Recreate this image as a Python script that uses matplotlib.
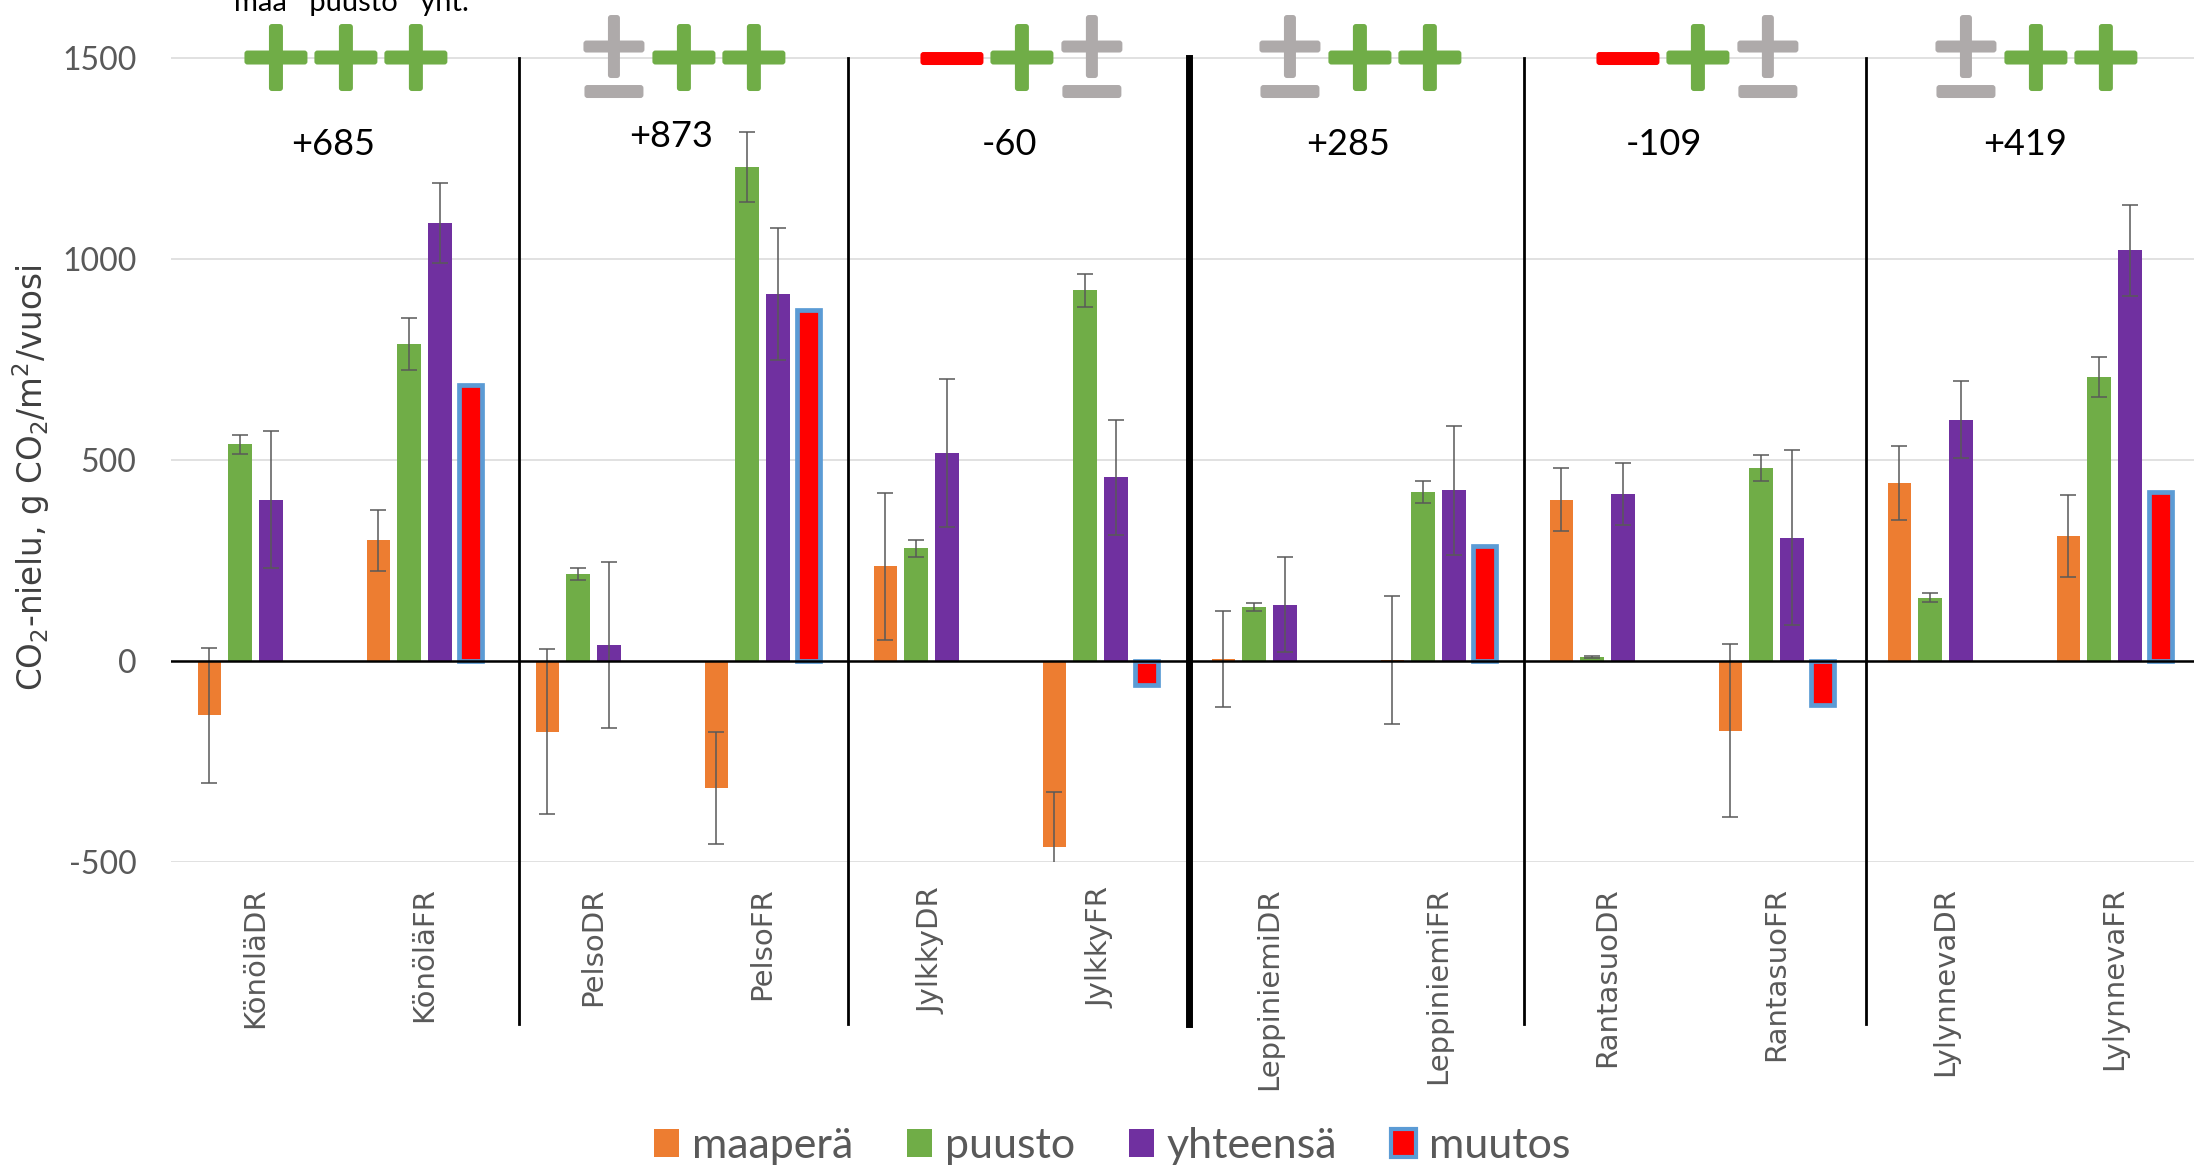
import numpy as np
import matplotlib
matplotlib.use("Agg")
import matplotlib.pyplot as plt
from matplotlib.patches import Patch, FancyBboxPatch
from matplotlib.transforms import IdentityTransform

# ---------------- data ----------------
categories = ["KönöläDR", "KönöläFR", "PelsoDR", "PelsoFR", "JylkkyDR", "JylkkyFR",
              "LeppiniemiDR", "LeppiniemiFR", "RantasuoDR", "RantasuoFR",
              "LylynnevaDR", "LylynnevaFR"]
maapera = [-135, 300, -176, -316, 235, -463, 4, 2, 401, -174, 441, 311]
maapera_err = [168, 76, 205, 140, 183, 136, 119, 159, 78, 215, 92, 102]
puusto = [538, 788, 215, 1228, 280, 921, 134, 420, 10, 479, 157, 706]
puusto_err = [23, 65, 15, 87, 21, 40, 10, 28, 3, 33, 11, 50]
yhteensa = [401, 1088, 40, 912, 517, 456, 140, 424, 415, 306, 600, 1021]
yhteensa_err = [170, 100, 206, 165, 183, 143, 119, 161, 78, 218, 95, 113]
muutos = [np.nan, 685, np.nan, 873, np.nan, -60, np.nan, 285, np.nan, -109, np.nan, 419]
series_names = ["maaperä", "puusto", "yhteensä", "muutos"]
# sign indicators per site: maa, puusto, yht.
signs = [["+", "+", "+"], ["±", "+", "+"], ["-", "+", "±"],
         ["±", "+", "+"], ["-", "+", "±"], ["±", "+", "+"]]
yticks = [-500, 0, 500, 1000, 1500]

# ---------------- layout / style ----------------
W, H = 2194, 1170
C_ORANGE, C_GREEN, C_PURPLE = "#ED7D31", "#70AD47", "#7030A0"
C_RED, C_BLUE, C_GRAY = "#FF0000", "#5B9BD5", "#AEAAAA"
TXT = "#595959"

plt.rcParams["mathtext.default"] = "regular"
fig = plt.figure(figsize=(W / 100, H / 100), dpi=100)
ax = fig.add_axes([171 / W, 1 - 862 / H, (2199 - 171) / W, 862 / H])
ax.set_xlim(-0.5, 11.5)
ax.set_ylim(-500, 1643)
for s in ax.spines.values():
    s.set_visible(False)

ax.set_yticks(yticks)
ax.set_yticklabels([str(t) for t in yticks], fontfamily="Lato", fontsize=23, color=TXT)
ax.yaxis.grid(True, color="#D9D9D9", lw=1.1, zorder=0)
ax.set_axisbelow(True)
ax.tick_params(axis="both", length=0)
ax.tick_params(axis="y", pad=25)
x = np.arange(len(categories))
ax.set_xticks(x)
ax.set_xticklabels(categories, rotation=90, fontsize=21, color=TXT, fontfamily="DejaVu Sans")
ax.tick_params(axis="x", pad=18)

off, w = 0.1817, 0.140
ekw = dict(ecolor="#595959", elinewidth=1.1, capsize=5.8, capthick=1.1, zorder=4)
for i, (v, e, c) in enumerate([(maapera, maapera_err, C_ORANGE),
                               (puusto, puusto_err, C_GREEN),
                               (yhteensa, yhteensa_err, C_PURPLE)]):
    ax.bar(x + (i - 1.5) * off, v, w, color=c, yerr=e, error_kw=ekw, zorder=3)
mu = np.array(muutos, dtype=float)
m = ~np.isnan(mu)
ax.bar(x[m] + 1.5 * off, mu[m], w, color=C_RED, edgecolor=C_BLUE, linewidth=3.4, zorder=3)

ax.axhline(0, color="black", lw=1.8, zorder=4)

# site separators
sep_x = [1.56, 3.508, 5.521, 7.505, 9.53]
sep_lw = [2.0, 2.0, 5.0, 2.0, 2.0]
for sx, lw in zip(sep_x, sep_lw):
    ax.plot([sx, sx], [1500, -903], color="black", lw=lw, clip_on=False, zorder=5)

# change labels
lab_dx_px = [-7, -7, -7, -6, -28, -5]
lab_base_px = [155, 147, 155, 155, 155, 155]
px_per_cat = (ax.transData.transform((1, 0))[0] - ax.transData.transform((0, 0))[0])
px_per_unit = (ax.transData.transform((0, 1))[1] - ax.transData.transform((0, 0))[1])
y0_top = H - ax.transData.transform((0, 0))[1]
site_changes = mu[m]
for k, val in enumerate(site_changes):
    gx = 2 * k + 0.5 + lab_dx_px[k] / px_per_cat
    gy = (y0_top - lab_base_px[k]) / px_per_unit
    ax.text(gx, gy, f"{int(val):+d}", ha="center", va="baseline",
            fontsize=26, fontfamily="Lato", color="black", zorder=6)

# sign symbols (drawn in pixel space)
def rbox(cx, cy, bw, bh, color):
    p = FancyBboxPatch((cx - bw / 2, cy - bh / 2), bw, bh,
                       boxstyle="round,pad=0,rounding_size=3",
                       transform=IdentityTransform(), facecolor=color,
                       edgecolor="none", zorder=7)
    fig.add_artist(p)

line_y = ax.transData.transform((0, 1500))[1]
for k, trio in enumerate(signs):
    for j, sg in enumerate(trio):
        cx = ax.transData.transform((2 * k + 0.5 + 0.035 + (j - 1) * 0.414, 0))[0]
        if sg == "+":
            rbox(cx, line_y, 63, 14, C_GREEN)
            rbox(cx, line_y, 14, 67, C_GREEN)
        elif sg == "-":
            rbox(cx, line_y - 1, 63, 13, C_RED)
        else:
            rbox(cx, line_y + 11, 61, 12, C_GRAY)
            rbox(cx, line_y + 11, 12, 63, C_GRAY)
            rbox(cx, line_y - 34, 59, 13, C_GRAY)

# header text (partially cut off at top, as in the source)
fig.text(234 / W, 1 - 11 / H, "maa   puusto   yht.", fontsize=21, fontfamily="Lato",
         color="black", va="baseline", ha="left")

# y label
fig.text(31 / W, 1 - 478 / H, r"CO$_2$-nielu, g CO$_2$/m$^2$/vuosi", rotation=90,
         ha="center", va="center", fontsize=23.5, fontfamily="DejaVu Sans", color="#404040")

# legend
handles = [Patch(facecolor=C_ORANGE, edgecolor="none"),
           Patch(facecolor=C_GREEN, edgecolor="none"),
           Patch(facecolor=C_PURPLE, edgecolor="none"),
           Patch(facecolor=C_RED, edgecolor=C_BLUE, linewidth=3)]
fig.legend(handles, series_names, loc="center", bbox_to_anchor=(1112 / W, 1 - 1146 / H),
           ncol=4, frameon=False, prop={"family": "Lato", "size": 31}, labelcolor=TXT,
           handlelength=0.58, handleheight=0.62, handletextpad=0.3, columnspacing=1.25)

fig.savefig("out.png", dpi=100)
